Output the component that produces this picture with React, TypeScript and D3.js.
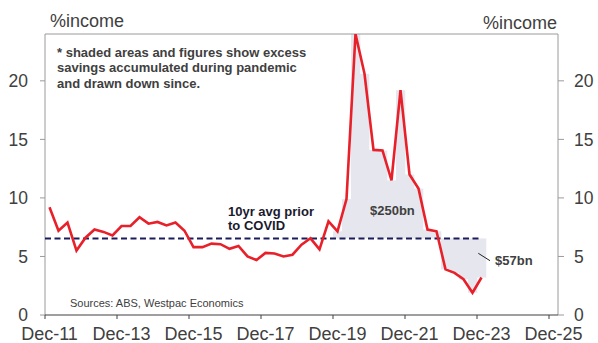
import React from "react";
import * as d3 from "d3";

// Household saving ratio, % of disposable income, quarterly from Dec-11
const savingRatio: number[] = [
  9.2, 7.2, 7.9, 5.5, 6.6, 7.3, 7.1, 6.8, 7.6, 7.6,
  8.35, 7.8, 7.95, 7.65, 7.9, 7.2, 5.8, 5.8, 6.1, 6.05,
  5.65, 5.9, 5.0, 4.7, 5.3, 5.25, 5.0, 5.15, 6.0, 6.55,
  5.6, 8.0, 7.15, 9.9, 24.0, 20.6, 14.1, 14.05, 11.5, 19.2,
  12.0, 10.8, 7.3, 7.15, 3.9, 3.6, 3.05, 1.9, 3.2,
];
const preCovidAvg = 6.54;
const excessStart = 32; // first quarter of the shaded excess-savings columns
const xTickLabels: string[] = ["Dec-11", "Dec-13", "Dec-15", "Dec-17", "Dec-19", "Dec-21", "Dec-23", "Dec-25"];
const yTicks: number[] = [0, 5, 10, 15, 20];
const noteLines: string[] = [
  "* shaded areas and figures show excess",
  "savings accumulated during pandemic",
  "and drawn down since.",
];
const avgLabelLines: string[] = ["10yr avg prior", "to COVID"];
const accumulatedLabel = "$250bn";
const drawnDownLabel = "$57bn";
const sourceText = "Sources: ABS, Westpac Economics";

const W = 598;
const H = 343;
const plot = { left: 45, right: 558, top: 34, bottom: 315 };
const FONT = "'Liberation Sans', Arial, sans-serif";
const TEXT = "#404040";

export default function App() {
  const x = d3.scaleLinear().domain([0, 57]).range([plot.left, plot.right]);
  const y = d3.scaleLinear().domain([0, 24]).range([plot.bottom, plot.top]);
  const px = (i: number) => x(i + 0.5);
  const colW = x(1) - x(0);

  const line = d3
    .line<number>()
    .x((_, i) => px(i))
    .y((d) => y(Math.min(d, 24)));

  const cols = savingRatio
    .map((v, i) => ({ v, i }))
    .filter((d) => d.i >= excessStart);

  const xTicks = xTickLabels.map((_, k) => k * 8);
  const lastIdx = savingRatio.length - 1;

  return (
    <div style={{ position: "fixed", left: 0, top: 0 }}>
      <svg width={W} height={H} style={{ display: "block", fontFamily: FONT }}>
        <rect width={W} height={H} fill="#fff" />
        <defs>
          <clipPath id="plotClip">
            <rect x={plot.left} y={plot.top} width={plot.right - plot.left} height={plot.bottom - plot.top} />
          </clipPath>
        </defs>

        {/* excess savings columns relative to the pre-COVID average */}
        <g clipPath="url(#plotClip)">
          {cols.map((d) => {
            const top = y(Math.max(d.v, preCovidAvg));
            const bot = y(Math.min(d.v, preCovidAvg));
            return (
              <rect
                key={d.i}
                x={px(d.i) - colW / 2}
                y={top}
                width={colW + 0.3}
                height={bot - top}
                fill="#e6e7ee"
              />
            );
          })}
        </g>

        {/* frame */}
        <path
          d={`M${plot.left},${plot.bottom}V${plot.top}H${plot.right}V${plot.bottom}`}
          fill="none"
          stroke="#9a9a9a"
          strokeWidth={1}
        />
        <line x1={plot.left} x2={plot.right} y1={plot.bottom} y2={plot.bottom} stroke="#404040" strokeWidth={1.2} />

        {/* y ticks, both sides */}
        {yTicks.map((t) => (
          <g key={t}>
            <line x1={plot.left - 5} x2={plot.left} y1={y(t)} y2={y(t)} stroke="#9a9a9a" />
            <line x1={plot.right} x2={plot.right + 6} y1={y(t)} y2={y(t)} stroke="#9a9a9a" />
            <text x={28} y={y(t)} dy="0.35em" textAnchor="end" fontSize={17.5} fill={TEXT}>
              {t}
            </text>
            <text x={574} y={y(t)} dy="0.35em" textAnchor="start" fontSize={17.5} fill={TEXT}>
              {t}
            </text>
          </g>
        ))}

        {/* x ticks */}
        {xTicks.map((t, k) => (
          <g key={t}>
            <line x1={x(t)} x2={x(t)} y1={plot.bottom} y2={plot.bottom + 4} stroke="#404040" />
            <text x={x(t + 0.5)} y={340} textAnchor="middle" fontSize={18} fill={TEXT}>
              {xTickLabels[k]}
            </text>
          </g>
        ))}

        {/* pre-COVID average */}
        <line
          x1={plot.left}
          x2={px(lastIdx)}
          y1={y(preCovidAvg)}
          y2={y(preCovidAvg)}
          stroke="#1c1c5c"
          strokeWidth={2}
          strokeDasharray="6,3.5"
        />

        {/* saving ratio */}
        <path d={line(savingRatio) ?? ""} fill="none" stroke="#e8202a" strokeWidth={2.6} strokeLinejoin="miter" clipPath="url(#plotClip)" />

        {/* axis titles */}
        <text x={50} y={26.5} fontSize={18} fill={TEXT}>%income</text>
        <text x={557} y={29} fontSize={18} fill={TEXT} textAnchor="end">%income</text>

        {/* note */}
        {noteLines.map((s, k) => (
          <text key={k} x={57} y={56.5 + k * 15.5} fontSize={13} fontWeight="bold" fill={TEXT}>
            {s}
          </text>
        ))}

        {avgLabelLines.map((s, k) => (
          <text key={k} x={228} y={216 + k * 13.5} fontSize={13} fontWeight="bold" fill="#1a1a2e">
            {s}
          </text>
        ))}

        <text x={370} y={215} fontSize={13} fontWeight="bold" fill={TEXT}>{accumulatedLabel}</text>
        <line x1={478.3} y1={253.3} x2={490} y2={260.7} stroke="#222" strokeWidth={1} />
        <text x={495} y={265} fontSize={13} fontWeight="bold" fill={TEXT}>{drawnDownLabel}</text>

        <text x={70} y={306.5} fontSize={11} fill={TEXT}>{sourceText}</text>
      </svg>
    </div>
  );
}
